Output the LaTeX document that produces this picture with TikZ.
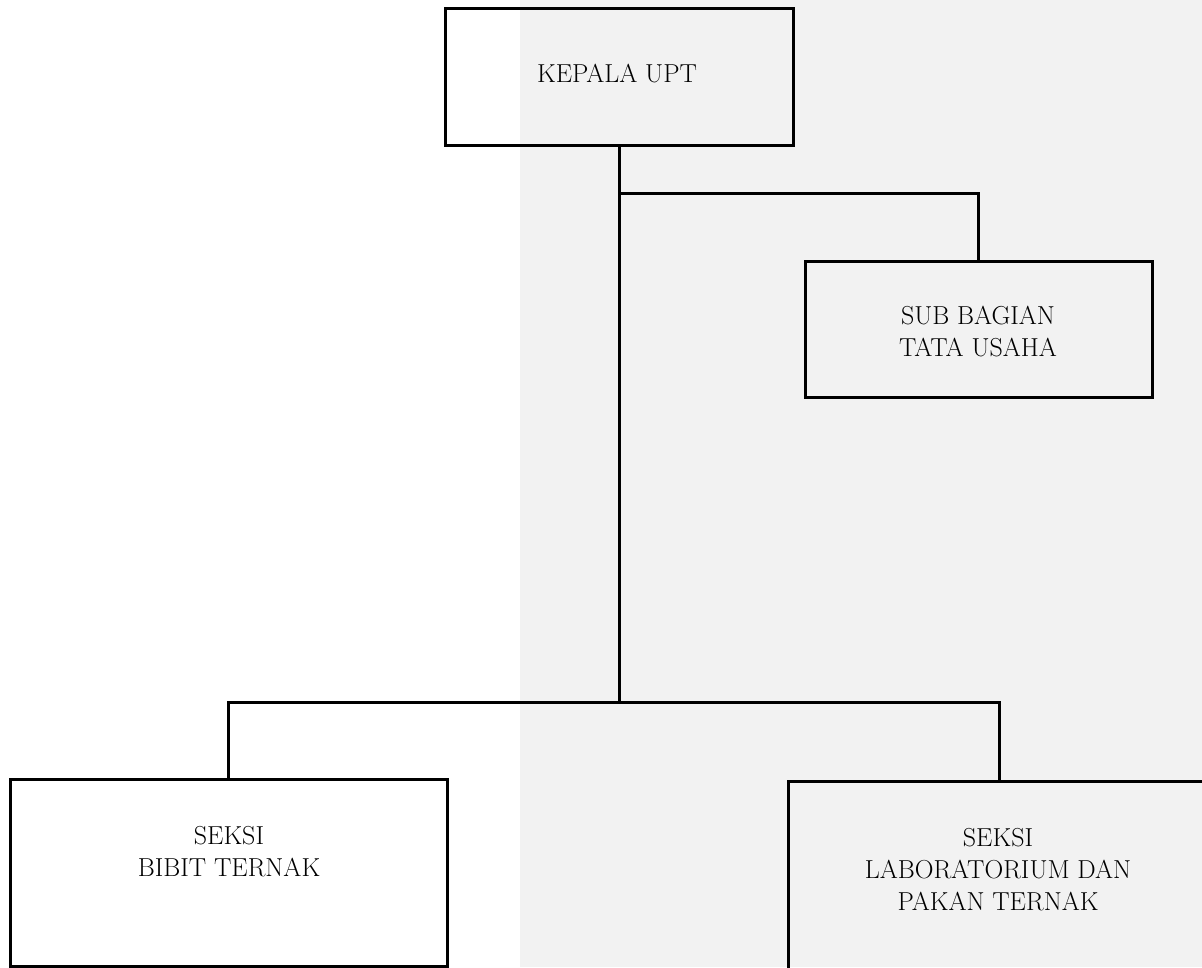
\documentclass[tikz,border=0pt]{standalone}
\usepackage{fontspec}
\begin{document}
\begin{tikzpicture}[x=1pt,y=-1pt,
  unitbox/.style={draw=black,line width=3pt,rectangle,inner sep=0pt,line join=miter},
  unittext/.style={align=center,inner sep=0pt,font=\fontsize{26}{32}\selectfont},
  link/.style={draw=black,line width=3pt,line join=miter}]
\useasboundingbox (0,0) rectangle (1202,967);
\clip (0,0) rectangle (1202,967);
% light scan tint on the right part
\fill[black!5] (520,0) rectangle (1202,967);
% boxes
\node[unitbox,minimum width=348pt,minimum height=137pt] (kepala) at (619,76.5) {};
\node[unitbox,minimum width=347pt,minimum height=136pt] (sub) at (978.5,329) {};
\node[unitbox,minimum width=437pt,minimum height=187pt] (bibit) at (228.5,872.5) {};
\node[unitbox,minimum width=422pt,minimum height=194pt] (lab) at (999,878) {};
% texts
\node[unittext] (tkepala) at (617,74) {KEPALA UPT};
\node[unittext] (tsub) at (978,332) {SUB BAGIAN\\TATA USAHA};
\node[unittext] (tbibit) at (229,852) {SEKSI\\BIBIT TERNAK};
\node[unittext] (tlab) at (998,870) {SEKSI\\LABORATORIUM DAN\\PAKAN TERNAK};
% junctions
\coordinate (j1) at (619,193);
\coordinate (j2) at (619,702);
% connectors
\draw[link] (kepala.south) -- (j2);
\draw[link] (j1) -| (sub.north);
\draw[link] (bibit.north) |- (j2) -| (lab.north);
\end{tikzpicture}
\end{document}
